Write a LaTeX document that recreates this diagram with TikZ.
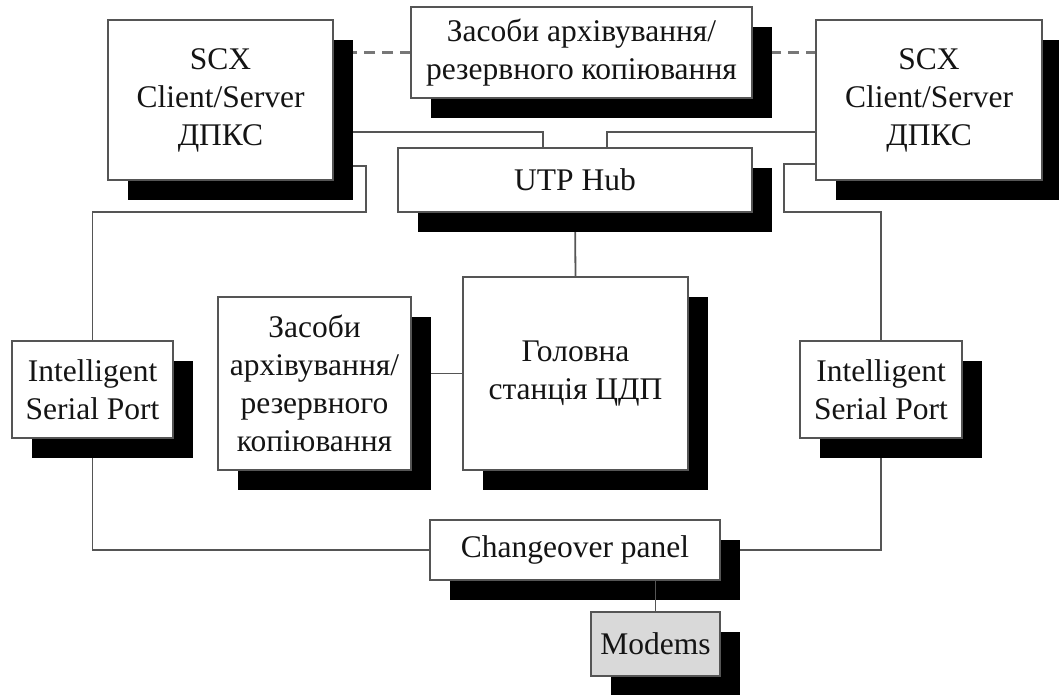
\documentclass[tikz,border=0pt]{standalone}
\usepackage{fontspec}
\setmainfont{Liberation Serif}
\usetikzlibrary{shadows,backgrounds}
\definecolor{edge}{HTML}{555555}
\definecolor{ink}{HTML}{141414}
\definecolor{modemfill}{HTML}{D9D9D9}
\begin{document}
\begin{tikzpicture}[x={(1pt,0)}, y={(0,-1pt)},
  unit/.style={draw=edge, line width=1.8pt, fill=white, inner sep=0pt, outer sep=0pt,
    align=center, text=ink, font=\fontsize{31.5}{38}\selectfont,
    drop shadow={shadow xshift=20pt, shadow yshift=-20pt, fill=black, opacity=1, draw=none}},
  wire/.style={draw=edge, line width=1.8pt},
  link/.style={draw=edge!80, line width=2.6pt, dash pattern=on 11pt off 7pt}]
\useasboundingbox (0,0) rectangle (1059,694);

% equipment
\node[unit, minimum width=225, minimum height=160] (scxL) at (220.5,100) {SCX\\Client/Server\\ДПКС};
\node[unit, minimum width=226, minimum height=160] (scxR) at (929,100) {SCX\\Client/Server\\ДПКС};
\node[unit, minimum width=341, minimum height=91] (arcT) at (581.5,52.5) {Засоби архівування/\\резервного копіювання};
\node[unit, minimum width=354, minimum height=64] (hub) at (575,180) {UTP Hub};
\node[unit, minimum width=161, minimum height=97] (ispL) at (92.5,389.5) {Intelligent\\Serial Port};
\node[unit, minimum width=193, minimum height=173] (arcM) at (314.5,383.5) {Засоби\\архівування/\\резервного\\копіювання};
\node[unit, minimum width=225, minimum height=193] (main) at (575.5,373.5) {Головна\\станція ЦДП};
\node[unit, minimum width=162, minimum height=97] (ispR) at (881,389.5) {Intelligent\\Serial Port};
\node[unit, minimum width=290, minimum height=60] (chg) at (575,550) {Changeover panel};
\node[unit, fill=modemfill, minimum width=129, minimum height=64] (mod) at (655.5,644) {Modems};

% bend points of the cabling
\coordinate (topbus) at (0,132);
\coordinate (lk1) at (366,166);
\coordinate (lk2) at (366,212);
\coordinate (rk1) at (784,164);
\coordinate (rk2) at (784,212);

\begin{scope}[on background layer]
  \draw[link] (arcT.west) -- (arcT.west -| scxL.east);
  \draw[link] (arcT.east) -- (arcT.east -| scxR.west);
  \draw[wire] (scxL.east |- topbus) -| ([xshift=-32pt]hub.north);
  \draw[wire] (scxR.west |- topbus) -| ([xshift=32pt]hub.north);
  \draw[wire] (scxL.east |- lk1) -- (lk1) -- (lk2) -| (ispL.north);
  \draw[wire] (scxR.west |- rk1) -- (rk1) -- (rk2) -| (ispR.north);
  \draw[wire] (hub.south) -- (main.north);
  \draw[wire] (arcM.east |- main.west) -- (main.west);
  \draw[wire] (ispL.south) |- (chg.west);
  \draw[wire] (ispR.south) |- (chg.east);
\end{scope}
\draw[wire] (chg.south -| mod.north) -- (mod.north);
\end{tikzpicture}
\end{document}
